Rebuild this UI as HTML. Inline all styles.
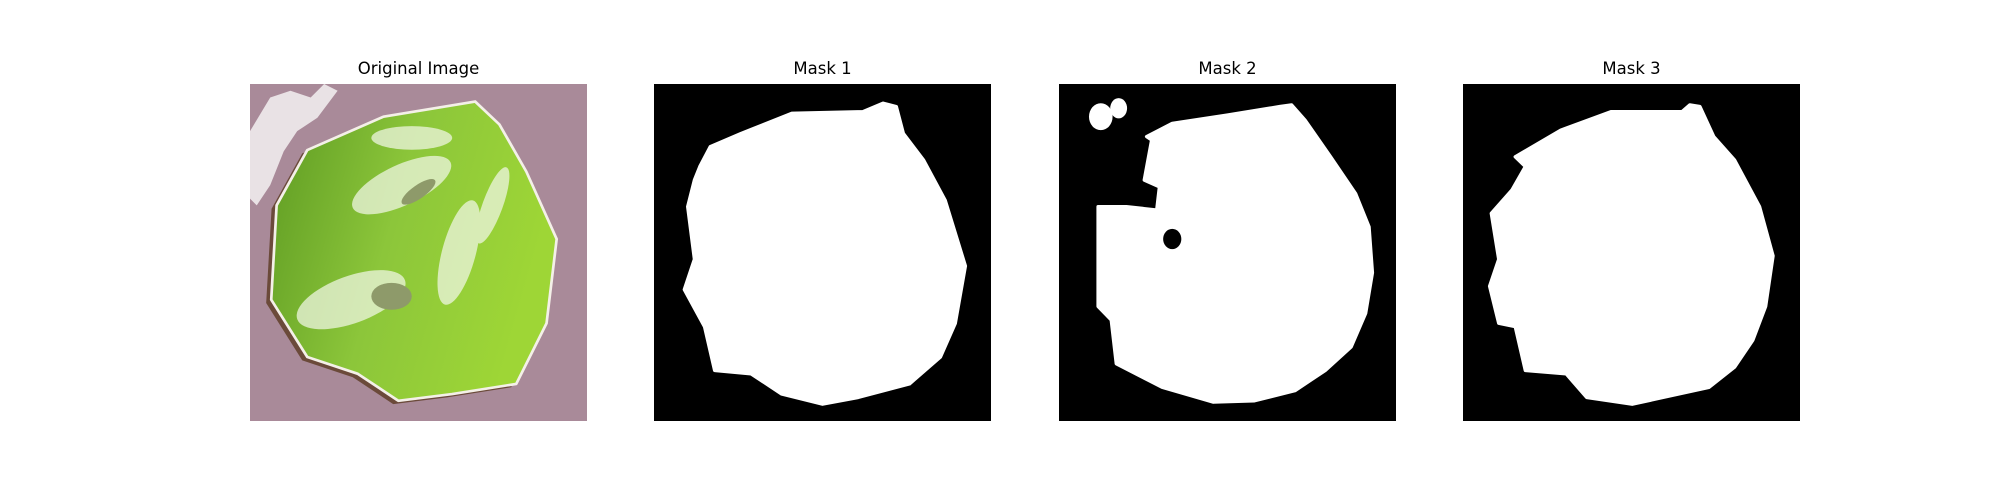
<!DOCTYPE html>
<html><head><meta charset="utf-8"><style>
body{margin:0;width:2000px;height:500px;background:#fff;position:relative;overflow:hidden;font-family:"Liberation Sans","DejaVu Sans",sans-serif}
.ax{position:absolute;top:84px;width:337px;height:337px}
.ax svg{display:block;width:337px;height:337px}
.t{position:absolute;top:59px;width:337px;text-align:center;font-family:"DejaVu Sans",sans-serif;font-size:16.5px;color:#000}
</style></head><body>
<div class="t" style="left:250px">Original Image</div>
<div class="t" style="left:654px">Mask 1</div>
<div class="t" style="left:1059px">Mask 2</div>
<div class="t" style="left:1463px">Mask 3</div>

<div class="ax" style="left:250px">
<svg viewBox="0 0 100 100" preserveAspectRatio="none">
<defs><linearGradient id="g" x1="0" y1="0" x2="1" y2="0.3"><stop offset="0" stop-color="#5d9a22"/><stop offset="0.5" stop-color="#8cc63a"/><stop offset="1" stop-color="#9ed636"/></linearGradient></defs>
<rect width="100" height="100" fill="#a98a99"/>
<g fill="#fff" opacity="0.75"><path d="M0 14 L6 4 L12 2 L18 4 L22 0 L26 2 L20 10 L14 14 L10 20 L6 30 L2 36 L0 34Z"/></g>
<path d="M66.8 5.2 L74 12 L82 26 L91 46 L88 71 L79 89 L60 92 L44 94 L32 86 L17 81 L6.3 64 L7.9 36 L17 19.6 L39.6 9.7Z" fill="#6b4a3a" transform="translate(-1.5,1)" stroke-linejoin="round"/>
<path d="M66.8 5.2 L74 12 L82 26 L91 46 L88 71 L79 89 L60 92 L44 94 L32 86 L17 81 L6.3 64 L7.9 36 L17 19.6 L39.6 9.7Z" fill="url(#g)" stroke="#f4f0e8" stroke-width="0.8" stroke-linejoin="round"/>
<g fill="#eef6e0" opacity="0.75">
<ellipse cx="45" cy="30" rx="16" ry="6" transform="rotate(-25 45 30)"/>
<ellipse cx="30" cy="64" rx="17" ry="7" transform="rotate(-20 30 64)"/>
<ellipse cx="62" cy="50" rx="5" ry="16" transform="rotate(15 62 50)"/>
<ellipse cx="48" cy="16" rx="12" ry="3.5"/>
<ellipse cx="72" cy="36" rx="3" ry="12" transform="rotate(20 72 36)"/>
</g>
<g fill="#8e9a6a"><ellipse cx="50" cy="32" rx="6" ry="2" transform="rotate(-35 50 32)"/><ellipse cx="42" cy="63" rx="6" ry="4"/></g>
</svg></div>

<div class="ax" style="left:654px">
<svg viewBox="0 0 100 100" preserveAspectRatio="none"><rect width="100" height="100" fill="#000"/>
<path fill="#fff" stroke="#fff" stroke-width="1" stroke-linejoin="round" d="M16.7 18.6 L25.8 14.7 L40.9 8.7 L62 8.2 L68 5.7 L71.9 6.7 L74 14.7 L80 22.6 L86.4 34.5 L92.4 54 L89.4 71 L85 81 L75.8 89 L60.6 93 L50 95 L37.9 92 L28.8 86 L18 85 L15 72 L9 61 L12 52 L10 36.4 L12 28.5 L13.6 24.5Z"/>
</svg></div>

<div class="ax" style="left:1059px">
<svg viewBox="0 0 100 100" preserveAspectRatio="none"><rect width="100" height="100" fill="#000"/>
<path fill="#fff" stroke="#fff" stroke-width="1" stroke-linejoin="round" d="M26 15.6 L33.6 11.7 L50 9.2 L65.5 6.7 L69 6.2 L73 10.7 L80.6 21.6 L88 32.5 L92 42.4 L93 56 L91 68 L86.7 78 L79 85 L70 91 L58 94 L45.8 94.4 L30.6 90 L17 83 L15.5 70 L11.6 66 L11.6 36.4 L20 36.4 L29 37.4 L29.8 30.5 L25.3 28.5 L27.5 16.6Z"/>
<ellipse cx="33.6" cy="46" rx="2.7" ry="3" fill="#000"/>
<ellipse cx="12.4" cy="9.7" rx="3.5" ry="4" fill="#fff"/><ellipse cx="17.7" cy="7.2" rx="2.5" ry="3" fill="#fff"/>
</svg></div>

<div class="ax" style="left:1463px">
<svg viewBox="0 0 100 100" preserveAspectRatio="none"><rect width="100" height="100" fill="#000"/>
<path fill="#fff" stroke="#fff" stroke-width="1" stroke-linejoin="round" d="M15.5 21.6 L29 13.7 L44 8.2 L65 8.2 L67.3 6.2 L70.3 6.7 L74.4 15.6 L80.6 22.6 L88 36.4 L92 51 L89.8 66 L86 76 L80.6 84 L73 90 L59.4 93 L50.3 95 L36.7 93 L30.6 86 L18.5 85 L15.5 72 L10.6 71 L7.9 60 L10.6 52 L8.4 38.4 L14.5 31.5 L18.5 24.5Z"/>
</svg></div>
</body></html>
